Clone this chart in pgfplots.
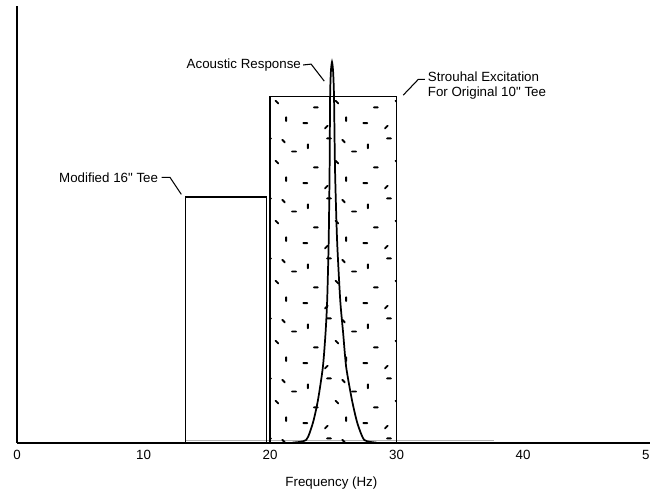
\documentclass[border=0pt]{standalone}
\usepackage{pgfplots}
\pgfplotsset{compat=1.18}
\usetikzlibrary{patterns}
\usepackage{fontspec}
\setmainfont{Liberation Sans}
\newfontfamily\qfont{Liberation Sans}[Ligatures=TeXOff]
\newcommand{\inch}{{\qfont"}}

\pgfdeclarepatternformonly{sdash}{\pgfpointorigin}{\pgfpoint{45pt}{45pt}}{\pgfpoint{45pt}{45pt}}{%
  \pgfsetlinewidth{1.4pt}\pgfsetroundcap
  % horizontal
  \pgfpathmoveto{\pgfpoint{2.5pt}{6pt}}\pgfpathlineto{\pgfpoint{5.5pt}{6pt}}
  \pgfpathmoveto{\pgfpoint{10.5pt}{18pt}}\pgfpathlineto{\pgfpoint{13.5pt}{18pt}}
  \pgfpathmoveto{\pgfpoint{39.5pt}{30pt}}\pgfpathlineto{\pgfpoint{42.5pt}{30pt}}
  \pgfpathmoveto{\pgfpoint{20.5pt}{40pt}}\pgfpathlineto{\pgfpoint{23.5pt}{40pt}}
  % vertical
  \pgfpathmoveto{\pgfpoint{35pt}{7.5pt}}\pgfpathlineto{\pgfpoint{35pt}{10.5pt}}
  \pgfpathmoveto{\pgfpoint{6pt}{32.5pt}}\pgfpathlineto{\pgfpoint{6pt}{35.5pt}}
  % diagonal
  \pgfpathmoveto{\pgfpoint{19pt}{2pt}}\pgfpathlineto{\pgfpoint{21pt}{4pt}}
  \pgfpathmoveto{\pgfpoint{27pt}{23pt}}\pgfpathlineto{\pgfpoint{29pt}{21pt}}
  \pgfpathmoveto{\pgfpoint{32pt}{39pt}}\pgfpathlineto{\pgfpoint{34pt}{37pt}}
  \pgfusepath{stroke}
}

\begin{document}
\begin{tikzpicture}
\begin{axis}[
  name=ax,
  scale only axis,
  width=474.4pt, height=327.75pt,
  xmin=0, xmax=50, ymin=0, ymax=1,
  axis x line=bottom, axis y line=left,
  axis line style={-, line width=1.5pt},
  xtick={0,10,20,30,40,50}, ytick=\empty,
  major tick length=0pt,
  /pgf/number format/assume math mode=true,
  tick label style={font=\fontsize{10}{12}\selectfont},
  xticklabel style={yshift=-1.5pt},
  xlabel={Frequency (Hz)},
  xlabel style={font=\fontsize{10}{12}\selectfont, at={(axis cs:24.85,0)}, anchor=center, yshift=-30pt},
  clip=false,
]
% faint baseline
\addplot[gray!60, line width=1pt] coordinates {(13.3,0.006) (37.7,0.006)};
% Strouhal excitation box
\addplot[black, line width=0.9pt, pattern=sdash] coordinates {(20.0,0) (20.0,0.792) (30.0,0.792) (30.0,0)} -- cycle;
% Modified 16" Tee box
\addplot[black, line width=0.9pt] coordinates {(13.3,0) (13.3,0.563) (19.7,0.563) (19.7,0)};
% Acoustic response
\addplot[black, line width=1.3pt, smooth, tension=0.4] coordinates {
 (21.8,0.001) (22.86,0.007) (23.39,0.046) (23.79,0.098) (24.18,0.174) (24.39,0.252)
 (24.52,0.327) (24.64,0.465) (24.71,0.625) (24.75,0.792) (24.81,0.849) (24.90,0.872)
 (24.99,0.849) (25.06,0.792) (25.14,0.625) (25.30,0.465) (25.55,0.327) (25.78,0.252)
 (26.02,0.174) (26.48,0.098) (26.90,0.046) (27.45,0.007) (28.4,0.001)
};
% annotations
\node[anchor=east, inner sep=0pt, font=\fontsize{10}{12}\selectfont] at (axis cs:22.46,0.865) {Acoustic Response};
\draw[line width=0.8pt] (axis cs:22.62,0.865) -- (axis cs:23.25,0.867) -- (axis cs:24.29,0.828);
\node[anchor=west, inner sep=0pt, align=left, font=\fontsize{10}{11.3}\selectfont] at (axis cs:32.46,0.817) {Strouhal Excitation\\For Original 10\inch{} Tee};
\draw[line width=0.8pt] (axis cs:30.53,0.796) -- (axis cs:31.72,0.832) -- (axis cs:32.25,0.832);
\node[anchor=east, inner sep=0pt, font=\fontsize{10}{12}\selectfont] at (axis cs:11.17,0.606) {Modified 16\inch{} Tee};
\draw[line width=0.8pt] (axis cs:11.43,0.608) -- (axis cs:12.09,0.608) -- (axis cs:12.99,0.569);
\end{axis}
\pgfresetboundingbox
\path ([shift={(-12.75pt,-36pt)}]ax.south west) rectangle ([shift={(474.75pt,332.25pt)}]ax.south west);
\end{tikzpicture}
\end{document}
